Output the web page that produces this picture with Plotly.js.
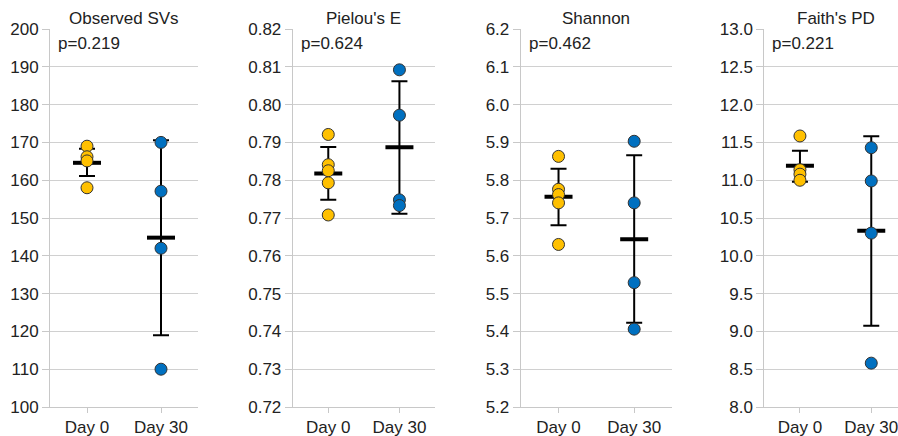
<!DOCTYPE html>
<html>
<head>
<meta charset="utf-8">
<script src="https://cdn.plot.ly/plotly-3.0.1.min.js"></script>
<style>html,body{margin:0;padding:0;background:#fff;}#chart{width:898px;height:436px;}</style>
</head>
<body>
<div id="chart"></div>
<script>
// ---- data ----
const groups = ["Day 0", "Day 30"];
const metrics = ["Observed SVs", "Pielou's E", "Shannon", "Faith's PD"];
const pValues = ["p=0.219", "p=0.624", "p=0.462", "p=0.221"];

const obsDay0 = [169, 166.2, 165.1, 158];
const obsDay30 = [170, 157.1, 142, 110];
const obsMean = [164.6, 144.8];
const obsUpper = [168.3, 170.6];
const obsLower = [161.1, 119.0];

const pieDay0 = [0.7921, 0.7841, 0.7825, 0.7793, 0.7708];
const pieDay30 = [0.8092, 0.7972, 0.7748, 0.7733];
const pieMean = [0.7818, 0.7887];
const pieUpper = [0.7888, 0.8062];
const pieLower = [0.7748, 0.7711];

const shaDay0 = [5.863, 5.776, 5.762, 5.740, 5.630];
const shaDay30 = [5.903, 5.740, 5.529, 5.406];
const shaMean = [5.756, 5.644];
const shaUpper = [5.830, 5.866];
const shaLower = [5.681, 5.423];

const faiDay0 = [11.585, 11.139, 11.08, 10.999];
const faiDay30 = [11.43, 10.99, 10.30, 8.58];
const faiMean = [11.19, 10.33];
const faiUpper = [11.39, 11.58];
const faiLower = [10.98, 9.075];

const yRanges = [[100, 200], [0.72, 0.82], [5.2, 6.2], [8.0, 13.0]];
const yDtick = [10, 0.01, 0.1, 0.5];
const yFormat = ["d", ".2f", ".1f", ".1f"];

// ---- layout geometry ----
const W = 898, H = 436;
const xPix = [[50, 198], [292.7, 435], [520.7, 672], [764.3, 898]];
const xRanges = [[-0.5, 1.5], [-0.5, 1.5], [-0.5, 1.5], [-0.5, 1.375]];

const COL0 = "#FFC000", COL30 = "#0070C0";
const FONT = "Liberation Sans, Arial, sans-serif";

const panels = [
  {d0: obsDay0, d30: obsDay30, mean: obsMean, up: obsUpper, lo: obsLower},
  {d0: pieDay0, d30: pieDay30, mean: pieMean, up: pieUpper, lo: pieLower},
  {d0: shaDay0, d30: shaDay30, mean: shaMean, up: shaUpper, lo: shaLower},
  {d0: faiDay0, d30: faiDay30, mean: faiMean, up: faiUpper, lo: faiLower}
];

const traces = [];
const layout = {
  width: W, height: H,
  margin: {l: 0, r: 0, t: 29, b: 29, pad: 0},
  paper_bgcolor: "#fff", plot_bgcolor: "#fff",
  showlegend: false,
  font: {family: FONT, size: 17, color: "#222"},
  annotations: []
};

panels.forEach((p, i) => {
  const n = i + 1;
  const xa = n === 1 ? "x" : "x" + n;
  const ya = n === 1 ? "y" : "y" + n;
  // mean + error bars
  traces.push({
    type: "scatter", mode: "markers", xaxis: xa, yaxis: ya,
    x: groups, y: p.mean,
    marker: {symbol: "line-ew", size: 20, line: {width: 4, color: "#000"}},
    error_y: {type: "data", symmetric: false,
      array: p.up.map((u, k) => u - p.mean[k]),
      arrayminus: p.mean.map((m, k) => m - p.lo[k]),
      color: "#000", thickness: 2, width: 8},
    hoverinfo: "skip"
  });
  traces.push({
    type: "scatter", mode: "markers", xaxis: xa, yaxis: ya,
    x: p.d0.map(() => groups[0]), y: p.d0,
    marker: {size: 12, color: COL0, line: {width: 1, color: "#333"}}
  });
  traces.push({
    type: "scatter", mode: "markers", xaxis: xa, yaxis: ya,
    x: p.d30.map(() => groups[1]), y: p.d30,
    marker: {size: 12, color: COL30, line: {width: 1, color: "#333"}}
  });

  const dom = [xPix[i][0] / W, Math.min(1, xPix[i][1] / W)];
  layout["xaxis" + (n === 1 ? "" : n)] = {
    domain: dom, anchor: ya, type: "category", categoryorder: "array", categoryarray: groups,
    range: xRanges[i], showgrid: false, zeroline: false,
    showline: true, linecolor: "#c8c8c8", linewidth: 1,
    ticks: "outside", ticklen: 5, tickcolor: "#c8c8c8",
    tickfont: {family: FONT, size: 17, color: "#222"}, fixedrange: true
  };
  layout["yaxis" + (n === 1 ? "" : n)] = {
    domain: [0, 1], anchor: xa, range: yRanges[i], dtick: yDtick[i], tick0: yRanges[i][0],
    tickformat: yFormat[i], showgrid: true, gridcolor: "#d0d0d0", gridwidth: 1, zeroline: false,
    showline: true, linecolor: "#c8c8c8", linewidth: 1,
    ticks: "outside", ticklen: 7, tickcolor: "#c8c8c8",
    tickfont: {family: FONT, size: 17, color: "#222"}, fixedrange: true
  };
  const cx = (xPix[i][0] + (i === 3 ? 907 : xPix[i][1])) / 2 / W;
  layout.annotations.push({
    xref: "paper", yref: "paper", x: cx, y: 1, yshift: 11, xanchor: "center", yanchor: "middle",
    text: metrics[i], showarrow: false, font: {family: FONT, size: 17, color: "#222"}
  });
  layout.annotations.push({
    xref: "paper", yref: "paper", x: (xPix[i][0] + 6) / W, y: 1, yshift: -3, xanchor: "left", yanchor: "top",
    text: pValues[i], showarrow: false, font: {family: FONT, size: 17, color: "#222"}
  });
});

Plotly.newPlot("chart", traces, layout, {displayModeBar: false, staticPlot: true});
</script>
</body>
</html>
